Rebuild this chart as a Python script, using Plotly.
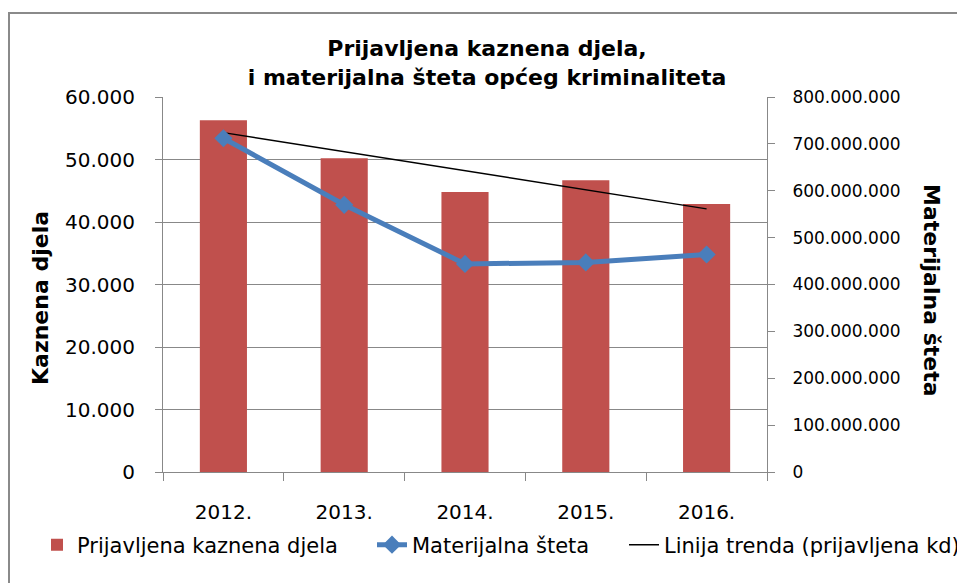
import plotly.graph_objects as go

years = ["2012.", "2013.", "2014.", "2015.", "2016."]
kaznena_djela = [56300, 50200, 44800, 46700, 42900]
materijalna_steta = [712000000, 570000000, 444000000, 447000000, 464000000]
trend_years = ["2012.", "2016."]
trend_values = [54300, 42100]

left_ticks = [0, 10000, 20000, 30000, 40000, 50000, 60000]
right_ticks = [0, 100000000, 200000000, 300000000, 400000000, 500000000,
               600000000, 700000000, 800000000]

W, H = 965, 583
OFF = 8  # page body margin
L = 163 - OFF
T = 97 - OFF
R = W - (767 - OFF)
B = H - (472 - OFF)
PW, PH = W - L - R, H - T - B


def px(x):
    return (x - OFF - L) / PW


def py(y):
    return (H - B - (y - OFF)) / PH


grid = "#888888"
font = "DejaVu Sans"

fig = go.Figure()
fig.add_trace(go.Bar(
    x=years, y=kaznena_djela, name="Prijavljena kaznena djela",
    marker=dict(color="#C0504D", line=dict(width=0)), yaxis="y", legend="legend"))
fig.add_trace(go.Scatter(
    x=years, y=materijalna_steta, name="Materijalna šteta", yaxis="y2",
    mode="lines+markers", line=dict(color="#4A7EBB", width=5),
    marker=dict(symbol="diamond", size=14, color="#4A7EBB"), legend="legend2"))
fig.add_trace(go.Scatter(
    x=trend_years, y=trend_values, name="Linija trenda (prijavljena kd)",
    mode="lines", line=dict(color="black", width=1.5), yaxis="y", legend="legend3"))

leg_common = dict(orientation="h", xanchor="left", y=py(545), yanchor="middle",
                  font=dict(family=font, size=21, color="black"),
                  itemwidth=30, bgcolor="rgba(0,0,0,0)")

fig.update_layout(
    width=W, height=H,
    margin=dict(l=L, r=R, t=T, b=B, autoexpand=False),
    paper_bgcolor="white", plot_bgcolor="white",
    separators=",.",
    bargap=0.61,
    title=dict(text="Prijavljena kaznena djela,<br>i materijalna šteta općeg kriminaliteta",
               x=(487 - OFF) / W, xanchor="center", y=1 - (56 - OFF) / H, yanchor="middle",
               yref="container",
               font=dict(family=font, size=22, color="black", weight="bold")),
    xaxis=dict(type="category", showline=True, linecolor=grid, linewidth=1,
               ticks="outside", tickson="boundaries", ticklen=8, tickcolor=grid,
               tickfont=dict(family=font, size=20, color="black"),
               ticklabelstandoff=22, showgrid=False),
    yaxis=dict(range=[0, 60000], tickvals=left_ticks, tickformat=",d",
               showline=True, linecolor=grid, linewidth=1,
               ticks="outside", ticklen=7, tickcolor=grid,
               showgrid=True, gridcolor=grid, gridwidth=1,
               tickfont=dict(family=font, size=20, color="black"),
               ticklabelstandoff=16, zeroline=False),
    yaxis2=dict(range=[0, 800000000], tickvals=right_ticks, tickformat=",d",
                overlaying="y", side="right",
                showline=True, linecolor=grid, linewidth=1,
                ticks="outside", ticklen=7, tickcolor=grid, showgrid=False,
                tickfont=dict(family=font, size=17, color="black"),
                ticklabelstandoff=14, zeroline=False),
    legend=dict(x=px(37), **leg_common),
    legend2=dict(x=px(372), **leg_common),
    legend3=dict(x=px(624), **leg_common),
    showlegend=True,
    annotations=[
        dict(text="<b>Kaznena djela</b>", xref="paper", yref="paper",
             x=px(40), y=py(298), textangle=-90, showarrow=False,
             font=dict(family=font, size=22, color="black"),
             xanchor="center", yanchor="middle"),
        dict(text="<b>Materijalna šteta</b>", xref="paper", yref="paper",
             x=px(932), y=py(290), textangle=90, showarrow=False,
             font=dict(family=font, size=22, color="black"),
             xanchor="center", yanchor="middle"),
    ],
    shapes=[dict(type="rect", xref="paper", yref="paper",
                 x0=px(9), x1=px(1000), y0=py(620), y1=py(13),
                 line=dict(color="#8a8a8a", width=2), layer="below")],
)

fig.write_html("out.html")
